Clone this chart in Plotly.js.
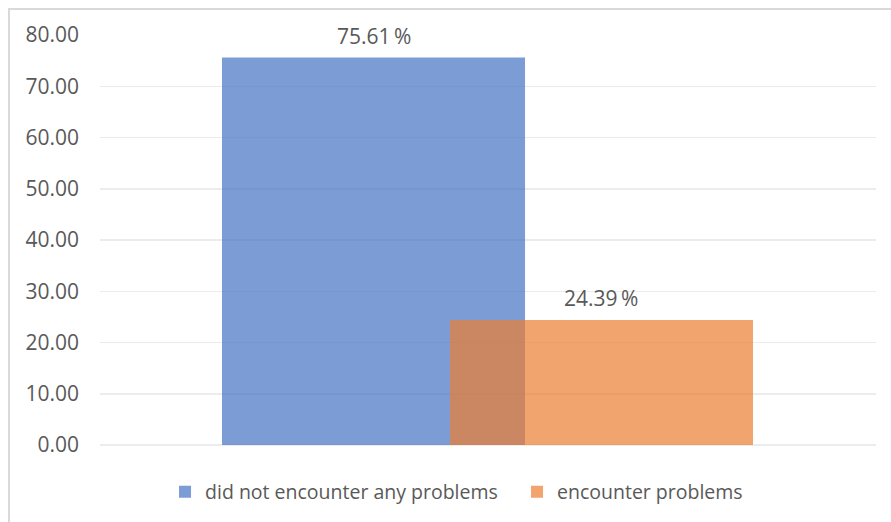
<!DOCTYPE html>
<html>
<head>
<meta charset="utf-8">
<script src="https://cdn.plot.ly/plotly-3.0.1.min.js"></script>
<style>
  html, body { margin: 0; padding: 0; background: #ffffff; overflow: hidden; }
  #frame {
    position: absolute; left: 8px; top: 8px; width: 900px; height: 530px;
    border: 2px solid #d9d9d9; box-sizing: border-box; pointer-events: none; z-index: 5;
  }
  #chart { position: absolute; left: 0; top: 0; width: 891px; height: 522px; }
</style>
</head>
<body>
<div id="chart"></div>
<div id="frame"></div>
<script>
// Survey result: share of respondents, in percent
const seriesNames = ['did not encounter any problems', 'encounter problems'];
const seriesValues = [75.61, 24.39];
const seriesColors = ['rgba(68,114,196,0.7)', 'rgba(237,125,49,0.7)'];
const yTickValues = [0, 10, 20, 30, 40, 50, 60, 70, 80];

// Bar geometry along the single category slot (x axis spans -0.5 .. 0.5)
const barWidth = 0.3905;
const barOffsets = [-0.3428, -0.049];
// Per-entry legend widths so the two entries sit apart like the original
const legendWidths = [307, 0];
const textColor = '#595959';
const fontFamily = '"Open Sans", "Noto Sans", sans-serif';

const traces = seriesNames.map((name, i) => ({
  type: 'bar',
  name: name,
  x: [0],
  y: [seriesValues[i]],
  width: [barWidth],
  offset: [barOffsets[i]],
  marker: { color: seriesColors[i], line: { width: 0 } },
  legendwidth: legendWidths[i] || undefined,
  hoverinfo: 'skip'
}));

const annotations = seriesValues.map((v, i) => ({
  x: barOffsets[i] + barWidth / 2,
  y: v,
  xref: 'x', yref: 'y',
  text: v.toFixed(2) + '\u2009%',
  showarrow: false,
  yanchor: 'middle',
  yshift: 22,
  font: { family: fontFamily, size: 21, color: textColor }
}));

const layout = {
  width: 891,
  height: 522,
  margin: { l: 100, r: 15, t: 35, b: 76 },
  paper_bgcolor: '#ffffff',
  plot_bgcolor: '#ffffff',
  barmode: 'overlay',
  showlegend: true,
  font: { family: fontFamily, color: textColor },
  xaxis: {
    range: [-0.5, 0.5],
    showticklabels: false,
    showgrid: false,
    zeroline: false,
    showline: false,
    fixedrange: true
  },
  yaxis: {
    range: [0, 80],
    tickvals: yTickValues,
    tickformat: '.2f',
    showgrid: true,
    gridcolor: '#ececec',
    gridwidth: 1.5,
    zeroline: true,
    zerolinecolor: '#ececec',
    zerolinewidth: 1.5,
    showline: false,
    ticks: '',
    ticklabelstandoff: 20,
    tickfont: { family: fontFamily, size: 21, color: textColor },
    fixedrange: true
  },
  legend: {
    orientation: 'h',
    x: 0.0838,
    xanchor: 'left',
    y: -0.112,
    yanchor: 'middle',
    font: { family: fontFamily, size: 19.5, color: textColor },
    itemwidth: 30,
    bgcolor: 'rgba(0,0,0,0)'
  },
  annotations: annotations
};

Plotly.newPlot('chart', traces, layout, { displayModeBar: false, staticPlot: true });
</script>
</body>
</html>
